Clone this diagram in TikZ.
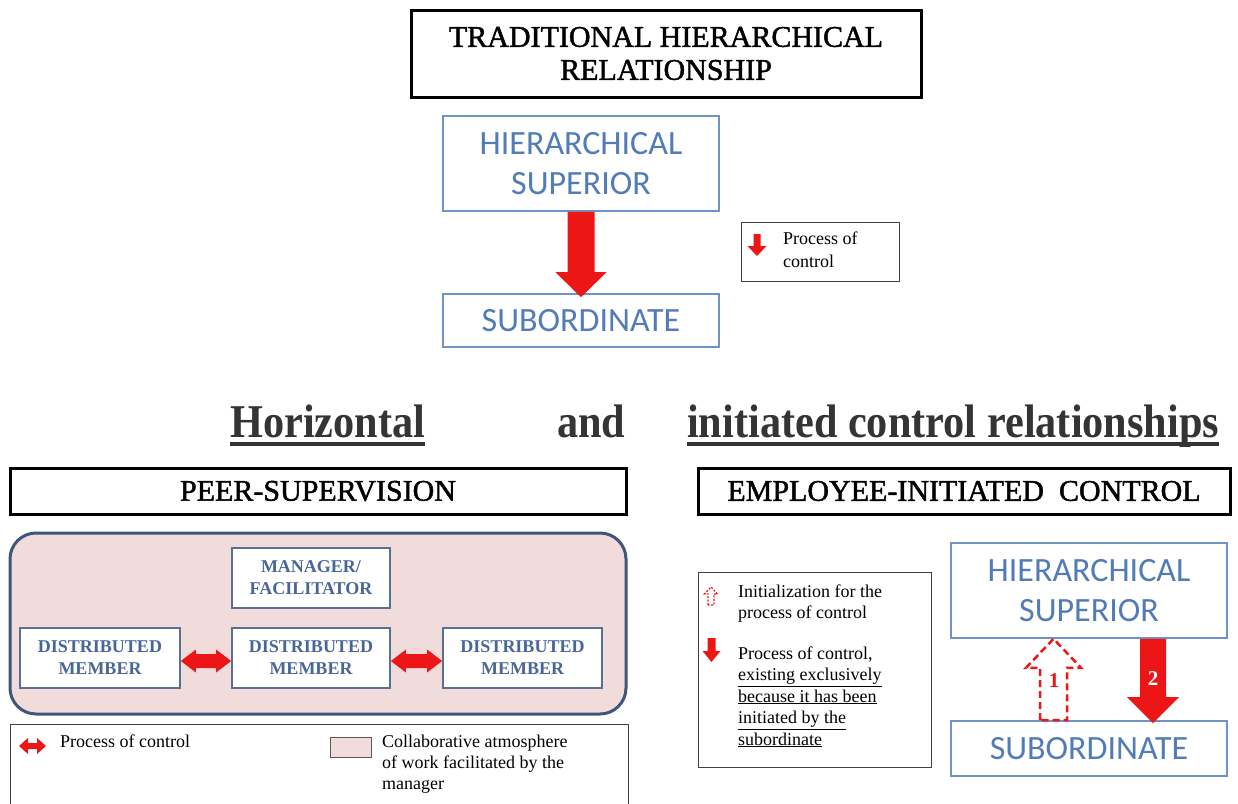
\documentclass[tikz,border=0pt]{standalone}
\usepackage{fontspec}
\setmainfont{Liberation Serif}
\newfontfamily\calibfont{Carlito}
\newfontfamily\boxheadfont[FakeBold=1.5]{Liberation Serif}
\newfontfamily\headfont[FakeStretch=0.9]{Liberation Serif}
\usetikzlibrary{calc}

\definecolor{ctrlred}{RGB}{236,22,22}
\definecolor{boxblue}{RGB}{112,146,196}
\definecolor{textblue}{RGB}{82,124,182}
\definecolor{memberline}{RGB}{88,112,150}
\definecolor{membertext}{RGB}{72,102,150}
\definecolor{pinkline}{RGB}{62,86,124}
\definecolor{collab}{RGB}{242,220,219}
\definecolor{headgray}{RGB}{52,52,52}

\newcommand\fsz[2]{\fontsize{#1pt}{#2pt}\selectfont}
% block arrow from #1 to tip #2: shaft half-width #3, head half-width #4, head length #5 (signed)
\newcommand\blockarr[6]{%
  \path[#6] ($(#1)+({-#3},0)$) -- ($(#2)+({-#3},{-(#5)})$) -- ($(#2)+({-#4},{-(#5)})$)
    -- (#2) -- ($(#2)+({#4},{-(#5)})$) -- ($(#2)+({#3},{-(#5)})$) -- ($(#1)+({#3},0)$) -- cycle;}
% horizontal double-headed block arrow between #1 and #2
\newcommand\dblarr[6]{%
  \path[#6] (#1) -- ($(#1)+({#5},{-#4})$) -- ($(#1)+({#5},{-#3})$) -- ($(#2)+({-#5},{-#3})$)
    -- ($(#2)+({-#5},{-#4})$) -- (#2) -- ($(#2)+({-#5},{#4})$) -- ($(#2)+({-#5},{#3})$)
    -- ($(#1)+({#5},{#3})$) -- ($(#1)+({#5},{#4})$) -- cycle;}

\begin{document}
\begin{tikzpicture}[x=1pt,y=-1pt,
  headbox/.style={draw=black,line width=3pt,fill=white,inner sep=0pt,align=center,
    font=\boxheadfont\fsz{30}{33}},
  bluebox/.style={draw=boxblue,line width=1.6pt,fill=white,inner sep=0pt,align=center,
    text=textblue,font=\calibfont\fsz{34}{40},minimum width=276pt},
  memberbox/.style={draw=memberline,line width=1.8pt,fill=white,inner sep=0pt,align=center,
    text=membertext,font=\bfseries\fsz{18}{22},minimum width=158pt,minimum height=60pt},
  legendbox/.style={draw=black!75,line width=1pt,fill=white,inner sep=0pt},
  legtext/.style={anchor=base west,inner sep=0pt,font=\fsz{18}{22}},
  heading/.style={anchor=base west,inner sep=0pt,text=headgray,font=\headfont\bfseries\fsz{47}{52}},
  underl/.style={draw=headgray,line width=3.5pt},
  ctrl/.style={fill=ctrlred},
  initdash/.style={draw=ctrlred,line width=2.5pt,dash pattern=on 7pt off 4pt},
  initdashsmall/.style={draw=ctrlred,line width=1.2pt,dash pattern=on 2pt off 1.5pt},
]
\useasboundingbox (0,0) rectangle (1238,803);
\fill[white] (0,0) rectangle (1238,803);

% ---------- traditional hierarchical relationship ----------
\node[headbox,minimum width=510pt,minimum height=87pt] (title) at (666,53.5)
  {TRADITIONAL HIERARCHICAL\\RELATIONSHIP};
\node[bluebox,minimum height=95pt] (sup1) at (581,163.5) {HIERARCHICAL\\SUPERIOR};
\node[bluebox,minimum height=53pt] (sub1) at (581,320.5) {SUBORDINATE};
\coordinate (a1t) at ([yshift=-4pt]sub1.north);
\blockarr{sup1.south}{a1t}{13.5}{25.5}{25}{ctrl}

% legend: process of control
\node[legendbox,minimum width=158pt,minimum height=59pt] (leg1) at (820,252) {};
\coordinate (k1a) at (757,234);
\coordinate (k1b) at (757,256);
\blockarr{k1a}{k1b}{3.5}{9.5}{10}{ctrl}
\node[legtext] (leg1t1) at (783,244) {Process of};
\node[legtext] (leg1t2) at (783,267) {control};

% ---------- section heading ----------
\node[heading] (hz) at (230,437) {Horizontal};
\node[heading] (hand) at (557,437) {and};
\node[heading] (hini) at (687,437) {initiated control relationships};
\draw[underl] ([yshift=-7pt]hz.base west) -- ([yshift=-7pt]hz.base east);
\draw[underl] ([yshift=-7pt]hini.base west) -- ([yshift=-7pt]hini.base east);

% ---------- peer supervision ----------
\node[headbox,minimum width=616pt,minimum height=46pt] (peer) at (318,491) {PEER-SUPERVISION};
\node[draw=pinkline,line width=3pt,fill=collab,rounded corners=26pt,
  minimum width=616pt,minimum height=181pt,inner sep=0pt] (team) at (318,623.5) {};
\node[memberbox] (mgr) at (311,578) {MANAGER/\\FACILITATOR};
\node[memberbox,minimum width=160pt] (dm1) at (100,658) {DISTRIBUTED\\MEMBER};
\node[memberbox] (dm2) at (311,658) {DISTRIBUTED\\MEMBER};
\node[memberbox,minimum width=159pt] (dm3) at (522.5,658) {DISTRIBUTED\\MEMBER};
\coordinate (p1a) at ([yshift=-3pt]dm1.east);
\coordinate (p1b) at ([yshift=-3pt]dm2.west);
\coordinate (p2a) at ([yshift=-3pt]dm2.east);
\coordinate (p2b) at ([yshift=-3pt]dm3.west);
\dblarr{p1a}{p1b}{7}{11.5}{15}{ctrl}
\dblarr{p2a}{p2b}{7}{11.5}{15}{ctrl}

% legend for peer supervision
\node[legendbox,anchor=north west,minimum width=618pt,minimum height=100pt] (leg2) at (10,724) {};
\coordinate (k2a) at (19,746);
\coordinate (k2b) at (46,746);
\dblarr{k2a}{k2b}{3}{8}{9}{ctrl}
\node[legtext] (leg2t1) at (60,747) {Process of control};
\node[draw=black!65,line width=1pt,fill=collab,minimum width=41pt,minimum height=20pt,
  inner sep=0pt] (collabkey) at (350.5,747) {};
\node[legtext] (leg2t2) at (382,747) {Collaborative atmosphere};
\node[legtext] (leg2t3) at (382,768) {of work facilitated by the};
\node[legtext] (leg2t4) at (382,789) {manager};

% ---------- employee-initiated control ----------
\node[headbox,minimum width=532pt,minimum height=46pt] (emp) at (964,491)
  {EMPLOYEE-INITIATED\ \ CONTROL};

\node[legendbox,minimum width=233pt,minimum height=195pt] (leg3) at (814.5,669.5) {};
\coordinate (k3a) at (711,605);
\coordinate (k3b) at (711,587);
\blockarr{k3a}{k3b}{3}{6.5}{-7}{initdashsmall}
\coordinate (k4a) at (711.5,638);
\coordinate (k4b) at (711.5,662);
\blockarr{k4a}{k4b}{4}{9}{11}{ctrl}
\node[legtext] (leg3t1) at (738,597) {Initialization for the};
\node[legtext] (leg3t2) at (738,618.5) {process of control};
\node[legtext] (leg3t3) at (738,659) {Process of control,};
\node[legtext] (leg3t4) at (738,680.5) {\underline{existing exclusively}};
\node[legtext] (leg3t5) at (738,702) {\underline{because it has been}};
\node[legtext] (leg3t6) at (738,723.5) {\underline{initiated by the}};
\node[legtext] (leg3t7) at (738,745) {\underline{subordinate}};

\node[bluebox,minimum height=95pt] (sup2) at (1089,590.5) {HIERARCHICAL\\SUPERIOR};
\node[bluebox,minimum height=55pt] (sub2) at (1089,748.5) {SUBORDINATE};

% 1: initialization by the subordinate (dashed outline)
\coordinate (u1b) at ([xshift=-35.5pt]sub2.north);
\coordinate (u1t) at ([xshift=-35.5pt]sup2.south);
\blockarr{u1b}{u1t}{13.5}{27.5}{-29}{initdash}
% 2: process of control
\coordinate (d2s) at ([xshift=64pt]sup2.south);
\coordinate (d2t) at ([xshift=64pt,yshift=-3pt]sub2.north);
\blockarr{d2s}{d2t}{13}{26}{26}{ctrl}

\node[font=\bfseries\fsz{21}{24},text=ctrlred,inner sep=0pt] (n1) at (1054,681) {1};
\node[font=\bfseries\fsz{21}{24},text=white,inner sep=0pt] (n2) at (1153,679) {2};
\end{tikzpicture}
\end{document}
